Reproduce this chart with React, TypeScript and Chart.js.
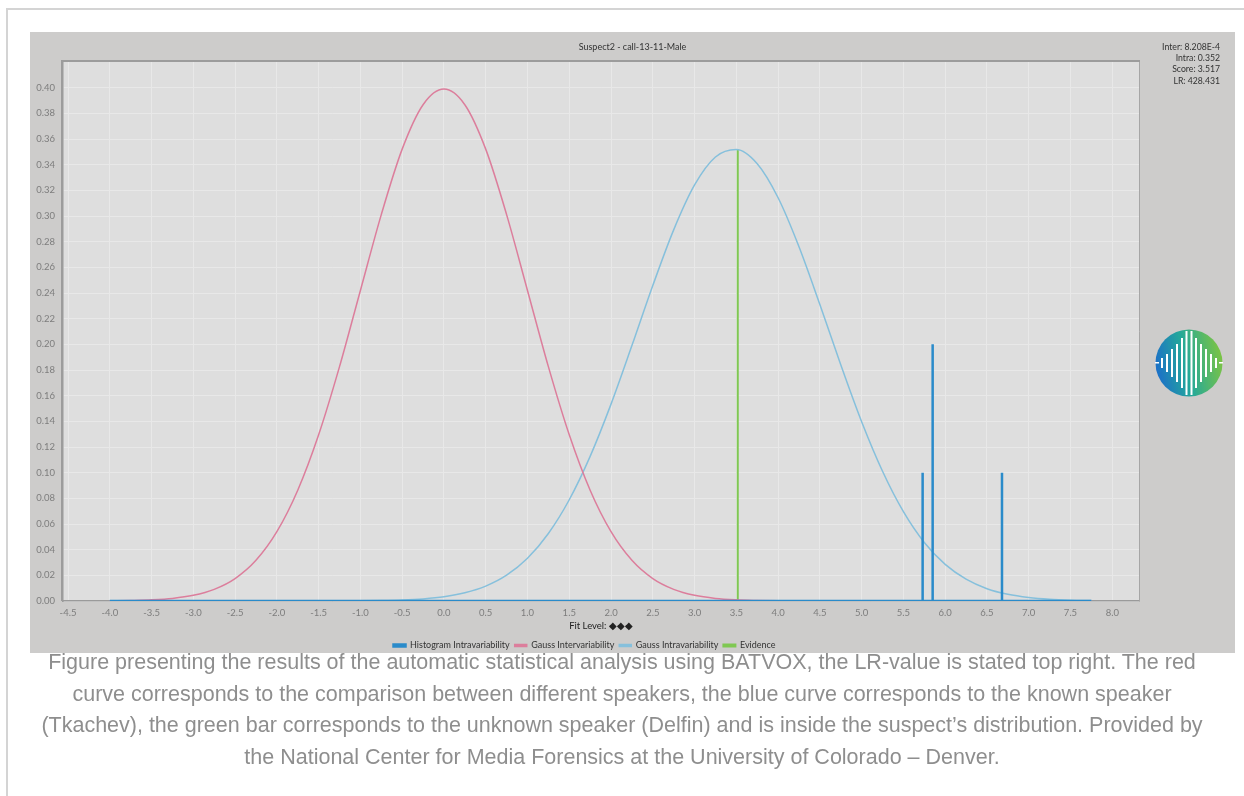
import React, { useEffect, useRef } from "react";
import { Chart, registerables } from "chart.js";

Chart.register(...registerables);

// ---- data ----
const gridX = [
  -4.0, -3.75, -3.5, -3.25, -3.0, -2.75, -2.5, -2.25, -2.0, -1.75, -1.5, -1.25,
  -1.0, -0.75, -0.5, -0.25, 0.0, 0.25, 0.5, 0.75, 1.0, 1.25, 1.5, 1.75,
  2.0, 2.25, 2.5, 2.75, 3.0, 3.25, 3.5, 3.75, 4.0, 4.25, 4.5, 4.75,
  5.0, 5.25, 5.5, 5.75, 6.0, 6.25, 6.5, 6.75, 7.0, 7.25, 7.5, 7.75,
];

const interY = [
  0.0001, 0.0004, 0.0009, 0.002, 0.0044, 0.0091, 0.0175, 0.0317, 0.054, 0.0863, 0.1295, 0.1826,
  0.242, 0.3011, 0.3521, 0.3867, 0.3989, 0.3867, 0.3521, 0.3011, 0.242, 0.1826, 0.1295, 0.0863,
  0.054, 0.0317, 0.0175, 0.0091, 0.0044, 0.002, 0.0009, 0.0004, 0.0001, 0, 0, 0,
  0, 0, 0, 0, 0, 0, 0, 0, 0, 0, 0, 0,
];

const intraY = [
  0, 0, 0, 0, 0, 0, 0, 0, 0, 0, 0.00002, 0.00006,
  0.00015, 0.00035, 0.00078, 0.00165, 0.0033, 0.0064, 0.0116, 0.0201, 0.0333, 0.0526, 0.0789, 0.1127,
  0.1534, 0.199, 0.2458, 0.2892, 0.3242, 0.346, 0.3518, 0.3407, 0.3142, 0.276, 0.231, 0.1841,
  0.1397, 0.1011, 0.0696, 0.0456, 0.0285, 0.017, 0.0096, 0.0052, 0.0027, 0.0013, 0.0006, 0.0003,
];

const histX = [5.73, 5.85, 6.68];
const histY = [0.1, 0.2, 0.1];
const histRange = [-4.0, 7.75];

const evidenceX = [3.517, 3.517];
const evidenceY = [0, 0.352];

const xTicks = [
  -4.5, -4.0, -3.5, -3.0, -2.5, -2.0, -1.5, -1.0, -0.5, 0.0, 0.5, 1.0, 1.5,
  2.0, 2.5, 3.0, 3.5, 4.0, 4.5, 5.0, 5.5, 6.0, 6.5, 7.0, 7.5, 8.0,
];
const yTicks = [
  0.0, 0.02, 0.04, 0.06, 0.08, 0.1, 0.12, 0.14, 0.16, 0.18, 0.2,
  0.22, 0.24, 0.26, 0.28, 0.3, 0.32, 0.34, 0.36, 0.38, 0.4,
];

const seriesNames = [
  "Histogram Intravariability",
  "Gauss Intervariability",
  "Gauss Intravariability",
  "Evidence",
];
const seriesColors = ["#2a8bca", "#dc7e9c", "#86c0dc", "#7fc852"];

const chartTitle = "Suspect2 - call-13-11-Male";
const statsLines = ["Inter: 8.208E-4", "Intra: 0.352", "Score: 3.517", "LR: 428.431"];
const xAxisTitle = "Fit Level: \u25C6\u25C6\u25C6";

const captionLines = [
  "Figure presenting the results of the automatic statistical analysis using BATVOX, the LR-value is stated top right. The red",
  "curve corresponds to the comparison between different speakers, the blue curve corresponds to the known speaker",
  "(Tkachev), the green bar corresponds to the unknown speaker (Delfin) and is inside the suspect\u2019s distribution. Provided by",
  "the National Center for Media Forensics at the University of Colorado \u2013 Denver.",
];

const logoBars = [
  { dx: -27, h: 10 },
  { dx: -22, h: 18 },
  { dx: -17, h: 28 },
  { dx: -12, h: 38 },
  { dx: -7, h: 50 },
  { dx: -2.5, h: 64 },
  { dx: 2.5, h: 64 },
  { dx: 7, h: 50 },
  { dx: 12, h: 38 },
  { dx: 17, h: 28 },
  { dx: 22, h: 18 },
  { dx: 27, h: 10 },
];

const plotBgPlugin = {
  id: "plotBg",
  beforeDraw(chart: any) {
    const { ctx, chartArea: a } = chart;
    ctx.save();
    ctx.fillStyle = "#dedede";
    ctx.fillRect(a.left, a.top, a.right - a.left, a.bottom - a.top);
    ctx.restore();
  },
  beforeDatasetsDraw(chart: any) {
    const { ctx, chartArea: a } = chart;
    ctx.save();
    ctx.strokeStyle = "#a6a6a6";
    ctx.lineWidth = 1;
    ctx.beginPath();
    ctx.moveTo(a.right + 0.5, a.top);
    ctx.lineTo(a.right + 0.5, a.bottom);
    ctx.stroke();
    ctx.strokeStyle = "#9c9c9c";
    ctx.lineWidth = 2;
    ctx.beginPath();
    ctx.moveTo(a.left - 1, a.bottom);
    ctx.lineTo(a.left - 1, a.top - 1);
    ctx.lineTo(a.right + 1, a.top - 1);
    ctx.stroke();
    ctx.restore();
  },
  afterDraw(chart: any) {
    const ctx = chart.ctx;
    ctx.save();
    ctx.fillStyle = "#333";
    ctx.font = "9px Lato";
    ctx.textAlign = "center";
    ctx.textBaseline = "middle";
    ctx.fillText(chartTitle, chart.width / 2, 15);
    ctx.textAlign = "right";
    ctx.font = "8.7px Lato";
    statsLines.forEach((s, i) => ctx.fillText(s, 1190, 15 + i * 11.3));
    ctx.restore();
  },
};

export default function App() {
  const ref = useRef<HTMLCanvasElement>(null);

  useEffect(() => {
    const histData: { x: number; y: number }[] = [{ x: histRange[0], y: 0 }];
    histX.forEach((x, i) => {
      histData.push({ x, y: 0 }, { x, y: histY[i] }, { x, y: 0 });
    });
    histData.push({ x: histRange[1], y: 0 });

    const interData = gridX.map((x, i) => ({ x, y: interY[i] }));
    const intraData = gridX.map((x, i) => ({ x, y: intraY[i] }));
    const evData = evidenceX.map((x, i) => ({ x, y: evidenceY[i] }));

    const chart = new Chart(ref.current!, {
      type: "line",
      data: {
        datasets: [
          {
            label: seriesNames[0],
            data: histData,
            borderColor: seriesColors[0],
            backgroundColor: seriesColors[0],
            borderWidth: 2.5,
            pointRadius: 0,
            tension: 0,
          },
          {
            label: seriesNames[1],
            data: interData,
            borderColor: seriesColors[1],
            backgroundColor: seriesColors[1],
            borderWidth: 1.5,
            pointRadius: 0,
            cubicInterpolationMode: "monotone",
          },
          {
            label: seriesNames[2],
            data: intraData,
            borderColor: seriesColors[2],
            backgroundColor: seriesColors[2],
            borderWidth: 1.5,
            pointRadius: 0,
            cubicInterpolationMode: "monotone",
          },
          {
            label: seriesNames[3],
            data: evData,
            borderColor: seriesColors[3],
            backgroundColor: seriesColors[3],
            borderWidth: 2,
            pointRadius: 0,
            tension: 0,
          },
        ],
      },
      options: {
        animation: false,
        responsive: false,
        layout: { padding: { left: 0, right: 96, top: 30, bottom: 0 } },
        plugins: {
          title: { display: false },
          tooltip: { enabled: false },
          legend: {
            display: true,
            position: "bottom",
            labels: {
              boxWidth: 12,
              boxHeight: 2,
              padding: 5,
              color: "#333",
              font: { family: "Lato", size: 9 },
            },
          },
        },
        scales: {
          x: {
            type: "linear",
            min: -4.56,
            max: 8.32,
            afterBuildTicks: (s: any) => {
              s.ticks = xTicks.map((v) => ({ value: v }));
            },
            afterFit: (s: any) => {
              s.height = 35;
            },
            ticks: {
              padding: 6,
              color: "#7d7d7d",
              font: { family: "Lato", size: 9.5 },
              maxRotation: 0,
              autoSkip: false,
              callback: (v: any) => Number(v).toFixed(1),
            },
            grid: { color: "#e8e8e8", drawTicks: false },
            border: { color: "#9a9a9a", width: 1.5 },
            title: {
              display: true,
              text: xAxisTitle,
              color: "#222",
              font: { family: "Lato", size: 9.5 },
              padding: { top: 0, bottom: 4 },
            },
          },
          y: {
            type: "linear",
            min: 0,
            max: 0.42,
            afterBuildTicks: (s: any) => {
              s.ticks = yTicks.map((v) => ({ value: v }));
            },
            afterFit: (s: any) => {
              s.width = 33;
            },
            ticks: {
              padding: 8,
              color: "#7d7d7d",
              font: { family: "Lato", size: 9.5 },
              autoSkip: false,
              callback: (v: any) => Number(v).toFixed(2),
            },
            grid: { color: "#e8e8e8", drawTicks: false },
            border: { color: "#9a9a9a", width: 1.5 },
          },
        },
      },
      plugins: [plotBgPlugin],
    } as any);

    return () => chart.destroy();
  }, []);

  return (
    <div
      style={{
        position: "absolute",
        left: 0,
        top: 0,
        width: 1244,
        height: 796,
        overflow: "hidden",
        background: "#fff",
      }}
    >
      <div
        style={{
          position: "absolute",
          left: 6,
          top: 8,
          width: 1270,
          height: 820,
          borderTop: "2px solid #d4d4d4",
          borderLeft: "2px solid #d4d4d4",
        }}
      />
      <div
        style={{
          position: "absolute",
          left: 30,
          top: 32,
          width: 1205,
          height: 621,
          background: "#cdcccb",
        }}
      />
      <canvas
        ref={ref}
        width={1205}
        height={628}
        style={{ position: "absolute", left: 30, top: 32, width: 1205, height: 628 }}
      />
      <svg
        width={72}
        height={72}
        style={{ position: "absolute", left: 1153, top: 327 }}
        viewBox="0 0 72 72"
      >
        <defs>
          <linearGradient id="lg" x1="0" y1="0.6" x2="1" y2="0.4">
            <stop offset="0" stopColor="#1c6fc9" />
            <stop offset="0.45" stopColor="#24a89a" />
            <stop offset="1" stopColor="#7cc443" />
          </linearGradient>
        </defs>
        <circle cx={36} cy={36} r={33.5} fill="url(#lg)" />
        {logoBars.map((b, i) => (
          <rect key={i} x={36 + b.dx - 1} y={36 - b.h / 2} width={2} height={b.h} fill="#ffffff" />
        ))}
        <rect x={2} y={35} width={4} height={1.5} fill="#ffffff" />
        <rect x={66} y={35} width={4} height={1.5} fill="#ffffff" />
      </svg>
      <div
        style={{
          position: "absolute",
          left: 0,
          top: 647,
          width: 1244,
          textAlign: "center",
          fontFamily: "'Liberation Sans', Arial, sans-serif",
          fontSize: 21.5,
          lineHeight: "31.7px",
          color: "#8e8e8e",
          whiteSpace: "nowrap",
        }}
      >
        {captionLines.map((l, i) => (
          <div key={i}>{l}</div>
        ))}
      </div>
    </div>
  );
}
